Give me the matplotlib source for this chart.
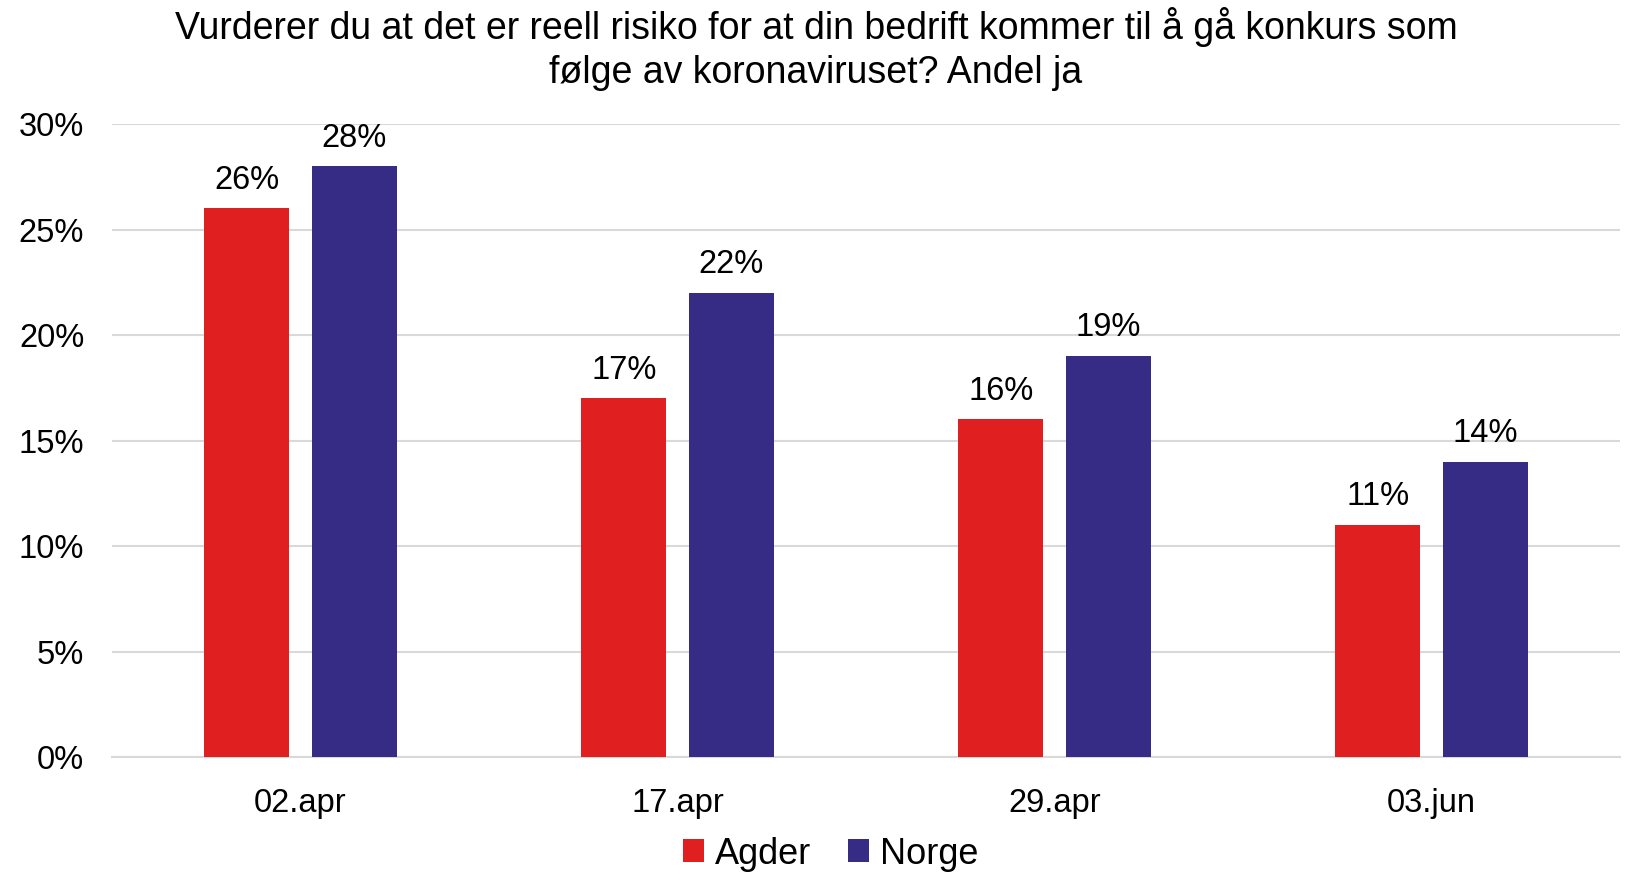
import matplotlib.pyplot as plt
import numpy as np

plt.rcParams['font.family'] = ['Liberation Sans', 'DejaVu Sans']

datoer = ['02.apr', '17.apr', '29.apr', '03.jun']
agder = [26, 17, 16, 11]
norge = [28, 22, 19, 14]
yticks = [0, 5, 10, 15, 20, 25, 30]

fig = plt.figure(figsize=(16.32, 8.76), dpi=100)
ax = fig.add_axes([112/1632, 1-757/876, 1508/1632, (757-124)/876])

x = np.arange(len(datoer))
w = 0.225
off = 0.1425
b1 = ax.bar(x - off, agder, w, color='#E02020', label='Agder', zorder=3)
b2 = ax.bar(x + off, norge, w, color='#372C85', label='Norge', zorder=3)

for bars, vals in ((b1, agder), (b2, norge)):
    for b, v in zip(bars, vals):
        ax.text(b.get_x() + b.get_width()/2, v + 0.6, f'{v}%', ha='center', va='bottom',
                fontsize=23.5)

ax.set_xlim(-0.5, 3.5)
ax.set_ylim(0, 30)
ax.set_yticks(yticks)
ax.set_yticklabels([f'{t}%' for t in yticks], fontsize=23.5)
ax.set_xticks(x)
ax.set_xticklabels(datoer, fontsize=23.5)
ax.tick_params(length=0)
ax.tick_params(axis='y', pad=20)
ax.tick_params(axis='x', pad=22)
ax.grid(axis='y', color='#D9D9D9', linewidth=1.5, zorder=0)
for s in ['top', 'right', 'left']:
    ax.spines[s].set_visible(False)
ax.spines['bottom'].set_color('#D9D9D9')
ax.spines['bottom'].set_linewidth(1.5)

fig.text(0.5, 1-49/876, 'Vurderer du at det er reell risiko for at din bedrift kommer til å gå konkurs som\nfølge av koronaviruset? Andel ja',
         ha='center', va='center', fontsize=27, linespacing=1.3)

fig.legend(handles=[b1, b2], loc='center', bbox_to_anchor=(0.509, 1-854/876), ncol=2,
           frameon=False, fontsize=26, handlelength=0.6, handleheight=0.6,
           handletextpad=0.3, columnspacing=1.0)

fig.savefig('out.png', dpi=100)
